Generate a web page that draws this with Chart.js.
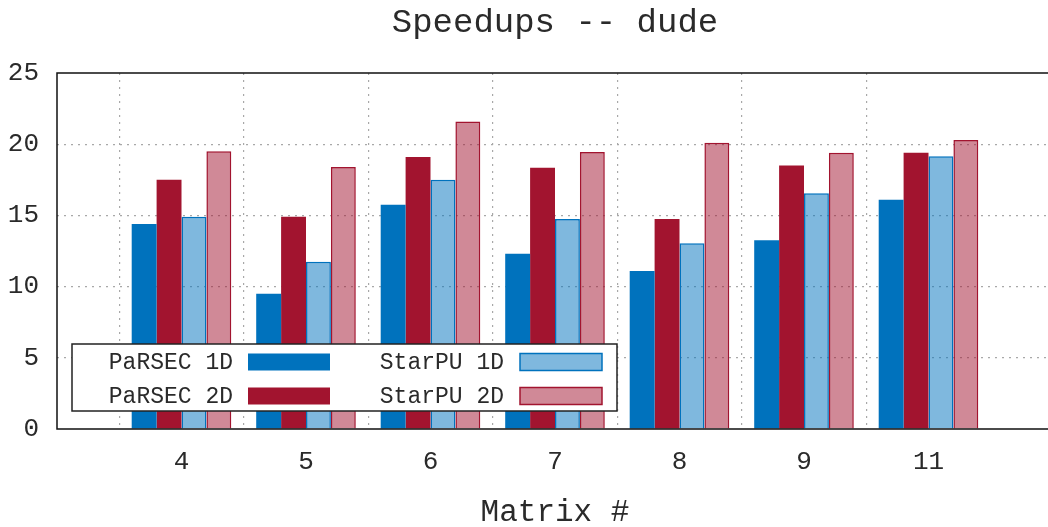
<!DOCTYPE html>
<html>
<head>
<meta charset="utf-8">
<title>Speedups -- dude</title>
<script src="https://cdn.jsdelivr.net/npm/chart.js@4.4.1/dist/chart.umd.min.js"></script>
<style>
  html, body { margin: 0; padding: 0; background: #ffffff; overflow: hidden; }
  #wrap { width: 1048px; height: 527px; position: relative; overflow: hidden; }
  #chart { display: block; }
</style>
</head>
<body>
<div id="wrap"><canvas id="chart" width="1053" height="527"></canvas></div>
<script>
// Matrix ids on the x axis
const matrices = ['4', '5', '6', '7', '8', '9', '11'];

// Speedup per matrix for each runtime / distribution
const parsec1D = [14.4, 9.5, 15.75, 12.3, 11.1, 13.25, 16.1];
const parsec2D = [17.5, 14.9, 19.1, 18.35, 14.75, 18.5, 19.4];
const starpu1D = [14.9, 11.75, 17.5, 14.75, 13.05, 16.55, 19.15];
const starpu2D = [19.5, 18.4, 21.6, 19.45, 20.1, 19.4, 20.3];

const yTicks = [0, 5, 10, 15, 20, 25];

const chartTitle = 'Speedups -- dude';
const xTitle = 'Matrix #';

// Empty slots on both ends give the half-category margin on each side
const labels = [''].concat(matrices, ['']);
const pad = arr => [null].concat(arr, [null]);

const BLUE = 'rgb(0,114,189)';
const RED = 'rgb(162,20,47)';
const MONO = '"Liberation Mono", "DejaVu Sans Mono", monospace';
const INK = '#2a2a2a';

const datasets = [
  { label: 'PaRSEC 1D', data: pad(parsec1D), backgroundColor: BLUE, borderColor: BLUE, borderWidth: 0 },
  { label: 'PaRSEC 2D', data: pad(parsec2D), backgroundColor: RED, borderColor: RED, borderWidth: 0 },
  { label: 'StarPU 1D', data: pad(starpu1D), backgroundColor: 'rgba(0,114,189,0.5)', borderColor: BLUE, borderWidth: 1.5 },
  { label: 'StarPU 2D', data: pad(starpu2D), backgroundColor: 'rgba(162,20,47,0.5)', borderColor: RED, borderWidth: 1.5 }
];

// Frame, titles and the in-plot key
const decor = {
  id: 'decor',
  afterDatasetsDraw(chart) {
    const ctx = chart.ctx;
    const a = chart.chartArea;
    ctx.save();

    // frame: top, left, bottom
    ctx.strokeStyle = '#111';
    ctx.lineWidth = 1.5;
    ctx.beginPath();
    ctx.moveTo(a.right, a.top);
    ctx.lineTo(a.left, a.top);
    ctx.lineTo(a.left, a.bottom);
    ctx.lineTo(a.right, a.bottom);
    ctx.stroke();

    // titles, centred on the plot area
    const cx = (a.left + a.right) / 2;
    ctx.fillStyle = INK;
    ctx.textAlign = 'center';
    ctx.textBaseline = 'middle';
    ctx.font = '34px ' + MONO;
    ctx.fillText(chartTitle, cx, 23);
    ctx.font = '31px ' + MONO;
    ctx.fillText(xTitle, cx, 513);

    // key box
    const bx = a.left + 15, by = a.bottom - 85, bw = 545, bh = 67;
    ctx.fillStyle = '#ffffff';
    ctx.fillRect(bx, by, bw, bh);
    ctx.strokeStyle = '#222';
    ctx.lineWidth = 1.5;
    ctx.strokeRect(bx, by, bw, bh);

    const order = [0, 2, 1, 3];
    const cols = [{ textRight: bx + 161, sw: bx + 176 }, { textRight: bx + 432, sw: bx + 448 }];
    const rows = [by + 18, by + 52];
    ctx.font = '23px ' + MONO;
    ctx.textAlign = 'right';
    order.forEach((di, k) => {
      const ds = chart.data.datasets[di];
      const col = cols[k % 2];
      const ry = rows[Math.floor(k / 2)];
      ctx.fillStyle = INK;
      ctx.fillText(ds.label, col.textRight, ry + 1);
      ctx.fillStyle = ds.backgroundColor;
      ctx.fillRect(col.sw, ry - 8.5, 82, 17);
      if (ds.borderWidth) {
        ctx.strokeStyle = ds.borderColor;
        ctx.lineWidth = ds.borderWidth;
        ctx.strokeRect(col.sw, ry - 8.5, 82, 17);
      }
    });
    ctx.restore();
  }
};

new Chart(document.getElementById('chart'), {
  type: 'bar',
  data: { labels: labels, datasets: datasets },
  options: {
    responsive: false,
    animation: false,
    layout: { padding: { top: 73, left: 0, right: 0, bottom: 0 } },
    datasets: { bar: { categoryPercentage: 0.8, barPercentage: 1.0 } },
    plugins: { legend: { display: false }, title: { display: false }, tooltip: { enabled: false } },
    scales: {
      x: {
        offset: false,
        grid: {
          drawTicks: true,
          tickLength: 18,
          tickColor: 'rgba(0,0,0,0)',
          color: c => (c.index === 0 || c.index === labels.length - 1) ? 'rgba(0,0,0,0)' : '#a8a8a8',
          lineWidth: 1.2
        },
        border: { display: false, dash: [2, 5] },
        ticks: { color: INK, font: { family: MONO, size: 26 }, padding: 0, maxRotation: 0, autoSkip: false },
        afterFit: s => { s.height = 98; }
      },
      y: {
        min: yTicks[0],
        max: yTicks[yTicks.length - 1],
        afterBuildTicks: s => { s.ticks = yTicks.map(v => ({ value: v })); },
        grid: {
          drawTicks: false,
          color: c => (c.tick.value === yTicks[0] || c.tick.value === yTicks[yTicks.length - 1]) ? 'rgba(0,0,0,0)' : '#a8a8a8',
          lineWidth: 1.2
        },
        border: { display: false, dash: [2, 5] },
        ticks: { color: INK, font: { family: MONO, size: 26 }, padding: 18 },
        afterFit: s => { s.width = 57; }
      }
    }
  },
  plugins: [decor]
});
</script>
</body>
</html>
